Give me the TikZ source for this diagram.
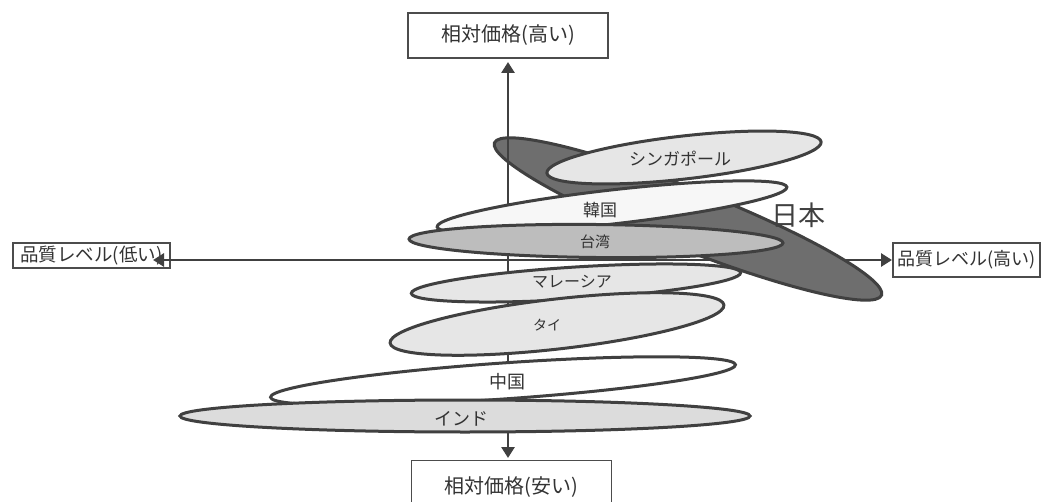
\documentclass[tikz,border=0pt]{standalone}
\usepackage{fontspec}
\setmainfont{Noto Sans CJK JP}
\usetikzlibrary{shapes.geometric,arrows.meta}
\definecolor{edgec}{HTML}{404040}
\definecolor{txtc}{HTML}{333333}
\definecolor{jpfill}{HTML}{6E6E6E}
\definecolor{twfill}{HTML}{BDBDBD}
\definecolor{ltfill}{HTML}{E6E6E6}
\definecolor{wtfill}{HTML}{F7F7F7}
\definecolor{infill}{HTML}{DCDCDC}
\tikzset{
  blob/.style={ellipse, draw=edgec, line width=3pt, inner sep=0pt},
  axisline/.style={draw=edgec, line width=2.8pt, {Triangle[length=11pt,width=13pt]}-{Triangle[length=11pt,width=13pt]}},
  boxlbl/.style={draw=black!70, line width=1.1pt, inner sep=0pt, text=txtc, font=\fontsize{20}{24}\selectfont},
  elbl/.style={text=txtc, inner sep=0pt}
}
\begin{document}
\begin{tikzpicture}[x=1pt,y=1pt]
\useasboundingbox[fill=white] (0,0) rectangle (1048,-502);
% boxes
\node[boxlbl, minimum width=200pt, minimum height=45pt] (top) at (508,-35.5) {相対価格(高い)};
\node[boxlbl, minimum width=157pt, minimum height=25pt, font=\fontsize{18.5}{20}\selectfont] (left) at (91.5,-255.5) {品質レベル(低い)};
\node[boxlbl, minimum width=147pt, minimum height=34pt, font=\fontsize{18}{20}\selectfont] (right) at (966.5,-260) {品質レベル(高い)};
\node[minimum width=199pt, minimum height=42pt, inner sep=0pt] (bot) at (511.5,-482) {};
\draw[draw=black!70, line width=1.1pt] (bot.south west) -- (bot.north west) -- (bot.north east) -- (bot.south east);
\node[elbl, font=\fontsize{20}{24}\selectfont] (botlbl) at (511.5,-487) {相対価格(安い)};
% horizontal axis (behind Japan)
\coordinate (hl) at (153,-260);
\coordinate (hr) at (892,-260);
\draw[axisline] (hl) -- (hr);
% Japan
\node[blob, fill=jpfill, minimum width=416pt, minimum height=60pt, rotate=-21.5] (jp) at (688,-219) {};
% vertical axis
\coordinate (vt) at (508,-62);
\coordinate (vb) at (508,-458);
\draw[axisline] (vt) -- (vb);
% other countries
\node[blob, fill=ltfill, minimum width=276pt, minimum height=43pt, rotate=6.5] (sg) at (684,-157.5) {};
\node[blob, fill=wtfill, minimum width=352pt, minimum height=34pt, rotate=6.5] (kr) at (612,-207) {};
\node[blob, fill=twfill, minimum width=374pt, minimum height=33pt, rotate=-0.6] (tw) at (596,-241) {};
\node[blob, fill=ltfill, minimum width=330pt, minimum height=32pt, rotate=3.6] (my) at (576,-283) {};
\node[blob, fill=ltfill, minimum width=336pt, minimum height=50pt, rotate=6.5] (th) at (557,-324) {};
\node[blob, fill=white, minimum width=466pt, minimum height=36pt, rotate=4] (cn) at (503,-381) {};
\node[blob, fill=infill, minimum width=570pt, minimum height=32pt] (in) at (465,-416) {};
% labels
\node[elbl, font=\fontsize{17}{20}\selectfont] (sglbl) at (680,-159) {シンガポール};
\node[elbl, font=\fontsize{17}{20}\selectfont] (krlbl) at (600,-210) {韓国};
\node[elbl, font=\fontsize{15}{18}\selectfont] (twlbl) at (595,-242) {台湾};
\node[elbl, font=\fontsize{16}{18}\selectfont] (mylbl) at (572,-282) {マレーシア};
\node[elbl, font=\fontsize{14}{16}\selectfont] (thlbl) at (547,-325) {タイ};
\node[elbl, font=\fontsize{18}{20}\selectfont] (cnlbl) at (507,-382) {中国};
\node[elbl, font=\fontsize{18}{20}\selectfont] (inlbl) at (461,-419) {インド};
\node[elbl, text=edgec, font=\fontsize{27}{30}\selectfont] (jplbl) at (798,-215) {日本};
\end{tikzpicture}
\end{document}
